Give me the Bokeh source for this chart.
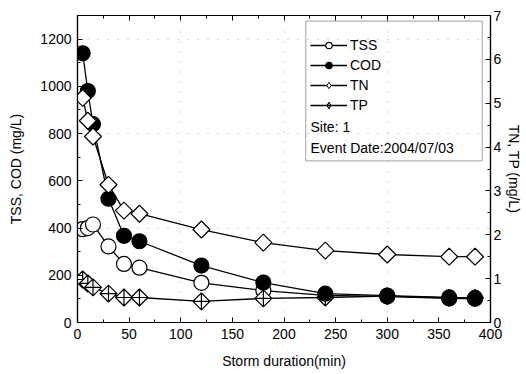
from bokeh.plotting import figure
from bokeh.models import (Range1d, LinearAxis, Legend, LegendItem, Label, BoxAnnotation,
                          ColumnDataSource, SingleIntervalTicker, CustomJSTickFormatter)
from bokeh.embed import file_html
from bokeh.resources import INLINE
import math

# Data
minutes = [5, 10, 15, 30, 45, 60, 120, 180, 240, 300, 360, 385]
tss = [395, 400, 415, 322, 248, 232, 168, 135, 115, 110, 102, 100]
cod = [1140, 980, 840, 524, 367, 344, 241, 169, 122, 114, 106, 104]
tn = [5.12, 4.6, 4.24, 3.14, 2.55, 2.48, 2.12, 1.82, 1.64, 1.55, 1.5, 1.5]
tp = [0.98, 0.89, 0.80, 0.66, 0.57, 0.57, 0.48, 0.55, 0.57, 0.60, 0.56, 0.56]
site_text = "Site: 1"
event_text = "Event Date:2004/07/03"

FONT = "Liberation Sans"

p = figure(frame_width=413, frame_height=307, output_backend="svg", toolbar_location=None,
           x_range=Range1d(0, 400), y_range=Range1d(0, 1300),
           min_border_left=77, min_border_right=30, min_border_top=15, min_border_bottom=46)
p.extra_y_ranges = {"right": Range1d(0, 7)}
p.outline_line_color = "black"
p.outline_line_width = 1.2
p.background_fill_color = "white"

p.xgrid.grid_line_color = "#aaaaaa"
p.ygrid.grid_line_color = "#aaaaaa"
p.xgrid.grid_line_dash = "1 9"
p.ygrid.grid_line_dash = "1 9"
p.xgrid.ticker = SingleIntervalTicker(interval=100)
p.ygrid.ticker = SingleIntervalTicker(interval=400)

def style_axis(ax):
    ax.axis_line_color = "black"
    ax.axis_line_width = 1.2
    ax.major_tick_in = 5
    ax.major_tick_out = 0
    ax.minor_tick_in = 3
    ax.minor_tick_out = 0
    ax.major_tick_line_color = "black"
    ax.minor_tick_line_color = "black"
    ax.major_label_text_font = FONT
    ax.major_label_text_font_size = "14px"
    ax.major_label_text_color = "black"
    ax.axis_label_text_font = FONT
    ax.axis_label_text_font_size = "14px"
    ax.axis_label_text_font_style = "normal"
    ax.axis_label_text_color = "black"

xax = p.xaxis[0]
xax.ticker = SingleIntervalTicker(interval=50, num_minor_ticks=2)
xax.axis_label = "Storm duration(min)"
style_axis(xax)
xax.major_label_standoff = 6
xax.axis_label_standoff = 11

yax = p.yaxis[0]
yax.ticker = SingleIntervalTicker(interval=200, num_minor_ticks=2)
yax.axis_label = "TSS, COD (mg/L)"
style_axis(yax)
yax.major_label_standoff = 6
yax.axis_label_standoff = 13

rax = LinearAxis(y_range_name="right", ticker=SingleIntervalTicker(interval=1, num_minor_ticks=2),
                 axis_label="TN, TP (mg/L)")
style_axis(rax)
rax.major_label_standoff = 3
rax.axis_label_standoff = 2
p.add_layout(rax, "right")

tax = LinearAxis(ticker=SingleIntervalTicker(interval=50, num_minor_ticks=2),
                 formatter=CustomJSTickFormatter(code="return ''"))
style_axis(tax)
tax.major_label_standoff = 0
p.add_layout(tax, "above")

src = ColumnDataSource(dict(x=minutes, tss=tss, cod=cod, tn=tn, tp=tp))
ang = math.pi / 4

l_tss = p.line("x", "tss", source=src, line_color="black", line_width=1.3)
s_tss = p.scatter("x", "tss", source=src, marker="circle", size=15,
                  fill_color="white", line_color="black", line_width=1.2)
l_tp = p.line("x", "tp", source=src, y_range_name="right", line_color="black", line_width=1.3)
s_tp = p.scatter("x", "tp", source=src, y_range_name="right", marker="square_x", size=12,
                 angle=ang, fill_color="white", line_color="black", line_width=1.2)
l_cod = p.line("x", "cod", source=src, line_color="black", line_width=1.3)
s_cod = p.scatter("x", "cod", source=src, marker="circle", size=15,
                  fill_color="black", line_color="black", line_width=1.2)
l_tn = p.line("x", "tn", source=src, y_range_name="right", line_color="black", line_width=1.3)
s_tn = p.scatter("x", "tn", source=src, y_range_name="right", marker="square", size=12,
                 angle=ang, fill_color="white", line_color="black", line_width=1.2)

# legend-only proxies (diamond shapes, unrotated in legend)
pr_tn = p.scatter("x", "tn", source=src, y_range_name="right", marker="diamond", size=12,
                  fill_color="white", line_color="black", line_width=1.0, visible=False)
pr_tp = p.scatter("x", "tp", source=src, y_range_name="right", marker="diamond_cross", size=12,
                  fill_color="white", line_color="black", line_width=1.0, visible=False)

box = BoxAnnotation(left=221, right=392, top=1276, bottom=684,
                    fill_alpha=0, line_color="black", line_width=1.2)
p.add_layout(box)

legend = Legend(items=[LegendItem(label="TSS", renderers=[l_tss, s_tss]),
                       LegendItem(label="COD", renderers=[l_cod, s_cod]),
                       LegendItem(label="TN", renderers=[l_tn, pr_tn]),
                       LegendItem(label="TP", renderers=[l_tp, pr_tp])],
                location=(233, 209), border_line_color=None, background_fill_alpha=0,
                padding=0, margin=0, spacing=4, glyph_width=37, glyph_height=16,
                label_standoff=3, label_text_font=FONT, label_text_font_size="14px",
                label_text_color="black", label_height=16, inactive_fill_alpha=0)
p.add_layout(legend)

for txt, yv in [(site_text, 828), (event_text, 739)]:
    p.add_layout(Label(x=225.7, y=yv, text=txt, text_font=FONT, text_font_size="14px",
                       text_baseline="middle", text_color="black"))

open("out.html", "w").write(file_html(p, INLINE))
